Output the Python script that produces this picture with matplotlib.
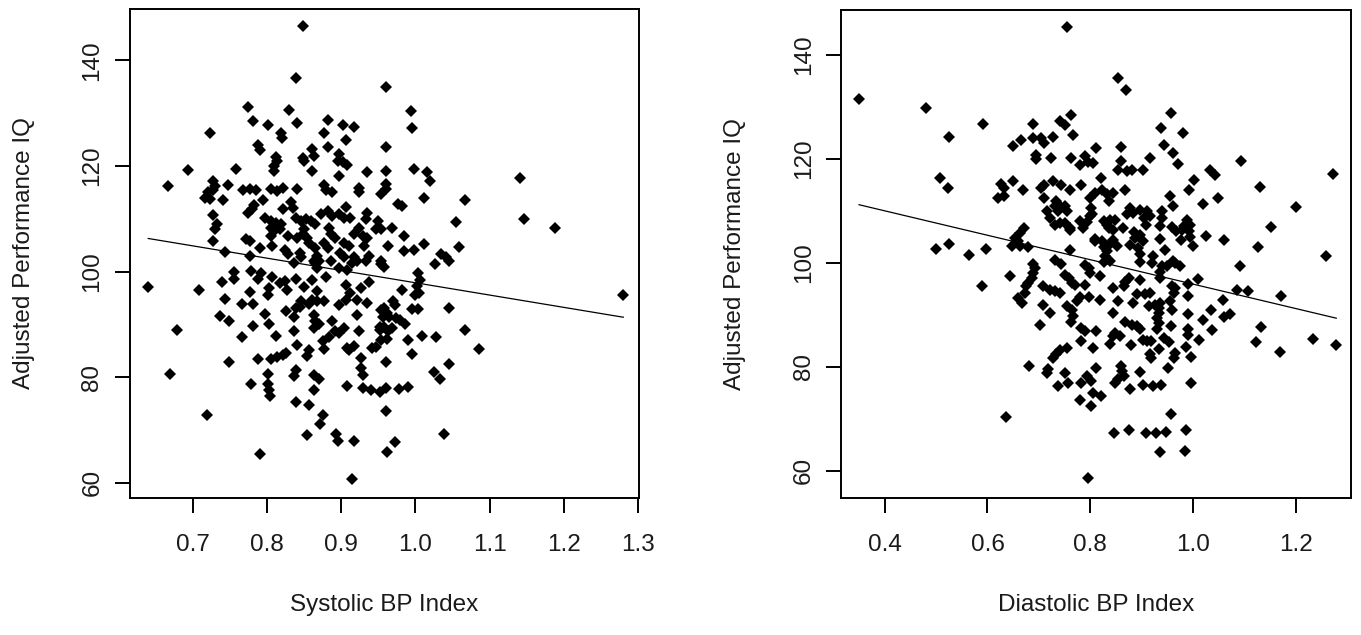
import matplotlib
matplotlib.use("Agg")
import matplotlib.pyplot as plt
import numpy as np

plt.rcParams["font.family"] = ["Liberation Sans", "DejaVu Sans"]

# ── data ─────────────────────────────────────────────────────────────────────

sys_x = [
    0.848, 0.839, 0.775, 0.830, 0.781, 0.841, 0.882, 0.902, 0.917, 0.801,
    0.819, 0.820, 0.723, 0.877, 0.906, 0.960, 0.960, 0.788, 0.791, 0.882,
    0.861, 0.863, 0.848, 0.850, 0.812, 0.813, 0.810, 0.809, 0.897, 0.895,
    0.902, 0.908, 0.860, 0.897, 0.935, 0.960, 0.694, 0.758, 0.666, 0.727,
    0.730, 0.727, 0.721, 0.717, 0.723, 0.747, 0.741, 0.767, 0.777, 0.785,
    0.806, 0.814, 0.822, 0.840, 0.877, 0.880, 0.887, 0.924, 0.924, 0.954,
    0.960, 0.794, 0.832, 0.835, 0.783, 0.780, 0.775, 0.821, 0.906, 0.727,
    0.797, 0.805, 0.812, 0.819, 0.839, 0.846, 0.852, 0.859, 0.865, 0.873,
    0.882, 0.888, 0.897, 0.904, 0.912, 0.935, 0.933, 0.950, 0.732, 0.730,
    0.805, 0.810, 0.817, 0.850, 0.848, 0.884, 0.886, 0.891, 0.924, 0.917,
    0.929, 0.935, 0.947, 0.805, 0.828, 0.841, 0.854, 0.857, 0.727, 0.772,
    0.777, 0.877, 0.882, 0.904, 0.910, 0.931, 0.807, 0.790, 0.743, 0.824,
    0.828, 0.844, 0.846, 0.865, 0.868, 0.863, 0.870, 0.899, 0.904, 0.917,
    0.921, 0.938, 0.954, 0.777, 0.886, 0.994, 0.996, 0.998, 1.016, 1.020,
    1.141, 0.960, 1.012, 1.067, 0.976, 0.982, 1.146, 1.188, 1.054, 0.954,
    0.969, 0.984, 0.963, 0.984, 0.998, 1.012, 1.059, 1.034, 1.041, 1.045,
    1.027, 0.954, 0.957, 1.004, 1.006, 1.002, 1.005, 0.999, 0.982, 1.280,
    0.970, 0.973, 0.957, 0.961, 0.965, 0.995, 1.004, 1.045, 0.974, 0.979,
    0.986, 0.952, 0.968, 0.963, 0.961, 1.067, 0.990, 1.009, 1.028, 1.085,
    0.996, 0.960, 1.045, 1.025, 1.033, 0.952, 0.960, 0.978, 0.990, 0.960,
    1.038, 0.973, 0.962, 0.640, 0.679, 0.669, 0.719, 0.709, 0.740, 0.756,
    0.755, 0.743, 0.736, 0.749, 0.766, 0.766, 0.749, 0.778, 0.777, 0.781,
    0.781, 0.792, 0.788, 0.797, 0.803, 0.788, 0.778, 0.807, 0.803, 0.801,
    0.812, 0.805, 0.814, 0.822, 0.826, 0.790, 0.801, 0.801, 0.803, 0.804,
    0.817, 0.824, 0.827, 0.826, 0.839, 0.837, 0.837, 0.841, 0.839, 0.837,
    0.850, 0.846, 0.844, 0.857, 0.861, 0.868, 0.877, 0.863, 0.865, 0.863,
    0.870, 0.861, 0.868, 0.880, 0.857, 0.854, 0.875, 0.877, 0.839, 0.837,
    0.863, 0.870, 0.863, 0.839, 0.857, 0.875, 0.872, 0.854, 0.893, 0.895,
    0.917, 0.915, 0.908, 0.888, 0.891, 0.884, 0.897, 0.904, 0.897, 0.906,
    0.912, 0.906, 0.921, 0.927, 0.935, 0.938, 0.921, 0.924, 0.910, 0.917,
    0.908, 0.927, 0.927, 0.929, 0.929, 0.940, 0.947, 0.942, 0.954, 0.954,
    0.956, 0.952, 0.958, 0.897, 0.908, 0.915, 0.933, 0.865, 0.868,
]
sys_y = [
    146.6, 136.6, 131.2, 130.6, 128.6, 128.1, 128.7, 127.7, 127.4, 127.7,
    126.2, 125.4, 126.2, 126.2, 124.9, 135.0, 123.7, 123.9, 123.0, 123.6,
    123.2, 121.9, 121.6, 120.9, 121.7, 120.9, 120.0, 119.1, 122.2, 120.9,
    120.7, 120.2, 119.1, 118.1, 118.9, 119.1, 119.2, 119.5, 116.2, 117.2,
    116.2, 115.4, 115.0, 114.0, 113.7, 116.4, 113.5, 115.4, 115.6, 115.4,
    115.6, 115.2, 115.9, 115.6, 116.5, 115.4, 115.0, 115.9, 115.0, 114.7,
    116.6, 113.5, 113.2, 112.1, 112.6, 111.8, 111.2, 111.9, 112.3, 110.7,
    110.2, 109.6, 109.3, 109.0, 110.2, 109.6, 109.9, 109.6, 109.0, 111.0,
    111.4, 110.6, 110.9, 110.2, 110.2, 111.2, 109.9, 109.6, 109.0, 108.0,
    108.3, 107.7, 108.0, 108.0, 107.1, 108.3, 107.1, 106.4, 108.3, 107.1,
    106.8, 106.4, 108.0, 106.8, 106.8, 106.4, 106.4, 105.5, 105.8, 106.1,
    105.8, 105.5, 104.5, 105.5, 104.9, 104.9, 104.9, 104.5, 103.7, 104.2,
    103.3, 103.6, 102.7, 104.5, 103.0, 102.0, 102.0, 103.6, 102.7, 102.7,
    102.0, 103.0, 102.0, 103.0, 102.0, 130.5, 127.3, 119.4, 118.9, 117.2,
    117.8, 115.6, 114.0, 113.5, 112.9, 112.5, 110.0, 108.2, 109.4, 108.0,
    108.2, 106.8, 104.9, 104.0, 104.2, 105.2, 104.7, 103.3, 102.7, 102.0,
    101.5, 101.4, 100.9, 99.8, 98.5, 97.2, 96.0, 95.6, 96.5, 95.5,
    94.4, 93.7, 93.1, 92.2, 91.5, 92.9, 92.9, 93.2, 91.2, 90.9,
    90.1, 89.6, 89.3, 88.7, 87.2, 88.9, 87.1, 87.9, 87.6, 85.4,
    84.5, 82.9, 82.5, 81.0, 79.7, 77.3, 78.0, 77.8, 78.1, 73.7,
    69.3, 67.7, 65.8, 97.1, 88.9, 80.7, 72.8, 96.5, 98.0, 99.9,
    98.6, 94.8, 91.7, 90.6, 93.9, 87.6, 82.9, 100.2, 96.2, 93.9,
    89.8, 99.8, 98.7, 92.0, 90.0, 83.5, 78.8, 99.0, 96.9, 95.6,
    87.9, 83.5, 83.8, 84.3, 84.6, 65.5, 80.7, 78.8, 77.6, 76.5,
    97.9, 98.2, 96.6, 92.5, 93.1, 91.4, 88.7, 86.2, 98.7, 101.6,
    97.1, 94.4, 93.4, 93.9, 94.7, 94.4, 94.4, 91.8, 90.6, 89.3,
    90.0, 98.5, 96.3, 99.0, 85.1, 84.1, 86.8, 85.3, 81.4, 80.2,
    80.5, 79.7, 77.6, 75.3, 74.7, 72.9, 71.2, 69.1, 69.3, 68.0,
    68.0, 60.8, 78.3, 90.6, 88.7, 87.7, 88.4, 89.3, 93.7, 94.7,
    96.0, 97.5, 94.7, 96.9, 94.1, 98.0, 91.8, 88.7, 85.2, 86.0,
    85.5, 83.6, 81.7, 80.5, 78.0, 77.6, 85.8, 85.5, 87.1, 92.8,
    91.5, 89.0, 89.6, 100.7, 100.4, 101.6, 102.0, 101.6, 100.7,
]

dia_x = [
    0.754, 0.350, 0.480, 0.591, 0.526, 0.689, 0.741, 0.750, 0.763, 0.767,
    0.650, 0.666, 0.689, 0.705, 0.711, 0.728, 0.695, 0.695, 0.724, 0.763,
    0.790, 0.780, 0.796, 0.806, 0.812, 0.507, 0.523, 0.627, 0.633, 0.620,
    0.633, 0.650, 0.669, 0.705, 0.711, 0.728, 0.744, 0.760, 0.783, 0.711,
    0.734, 0.741, 0.750, 0.731, 0.737, 0.754, 0.799, 0.809, 0.802, 0.799,
    0.715, 0.721, 0.731, 0.750, 0.760, 0.780, 0.786, 0.672, 0.663, 0.653,
    0.659, 0.647, 0.663, 0.679, 0.500, 0.526, 0.598, 0.565, 0.760, 0.809,
    0.689, 0.731, 0.744, 0.790, 0.854, 0.870, 0.957, 0.938, 0.981, 0.860,
    0.944, 0.961, 0.970, 0.916, 0.860, 0.855, 0.871, 0.881, 0.903, 0.821,
    1.094, 1.033, 1.042, 1.003, 0.993, 1.273, 1.130, 0.867, 0.823, 0.836,
    0.845, 0.955, 0.962, 1.048, 1.019, 1.201, 0.803, 0.878, 0.871, 0.884,
    0.897, 0.910, 0.917, 0.904, 0.940, 0.940, 0.936, 0.989, 0.995, 0.982,
    0.992, 0.826, 0.839, 0.836, 0.845, 0.864, 0.909, 0.897, 0.888, 0.959,
    0.968, 1.152, 1.026, 1.061, 0.936, 0.977, 0.810, 0.823, 0.836, 0.852,
    0.878, 0.894, 0.897, 1.001, 0.946, 1.126, 1.260, 0.923, 0.962, 0.829,
    0.839, 1.091, 0.833, 0.741, 0.761, 0.794, 0.849, 0.833, 0.826, 0.833,
    0.826, 0.692, 0.689, 0.686, 0.679, 0.676, 0.800, 0.797, 0.644, 0.751,
    0.758, 0.764, 0.771, 0.819, 0.709, 0.722, 0.732, 0.741, 0.660, 0.667,
    0.709, 0.722, 0.754, 0.764, 0.767, 0.774, 0.780, 0.797, 0.819, 0.845,
    0.845, 0.590, 0.674, 0.790, 0.702, 0.763, 0.783, 0.790, 0.812, 0.783,
    0.806, 0.754, 0.741, 0.734, 0.728, 0.681, 0.718, 0.715, 0.750, 0.757,
    0.737, 0.793, 0.783, 0.802, 0.812, 0.806, 0.780, 0.802, 0.637, 0.796,
    0.897, 0.920, 0.940, 0.950, 0.966, 0.975, 0.936, 1.009, 0.990, 0.868,
    0.875, 0.865, 0.896, 0.966, 0.963, 1.086, 1.107, 1.172, 0.891, 0.907,
    0.917, 0.990, 0.855, 0.884, 0.914, 0.927, 0.936, 0.933, 0.956, 0.959,
    1.058, 1.035, 0.930, 0.933, 0.990, 1.060, 1.072, 1.019, 0.868, 0.881,
    0.891, 0.897, 0.957, 1.132, 0.930, 0.849, 0.858, 0.845, 0.990, 0.990,
    1.038, 0.902, 0.910, 0.918, 0.944, 0.953, 1.012, 1.123, 1.234, 0.839,
    0.879, 0.934, 0.987, 1.279, 1.169, 0.966, 0.964, 0.916, 0.918, 0.997,
    0.860, 0.861, 0.865, 0.951, 0.896, 0.855, 0.849, 0.877, 0.903, 0.923,
    0.938, 0.997, 0.821, 0.957, 0.847, 0.876, 0.909, 0.929, 0.948, 0.987,
    0.935, 0.984, 0.886, 0.903, 0.978, 0.995, 0.845, 0.936, 0.933, 0.960,
]
dia_y = [
    145.4, 131.6, 129.7, 126.8, 124.3, 126.8, 127.2, 126.5, 128.4, 124.6,
    122.5, 123.6, 124.1, 124.0, 123.0, 124.3, 120.8, 120.0, 120.1, 120.1,
    120.5, 118.8, 119.4, 119.2, 122.1, 116.4, 114.4, 115.1, 114.4, 112.5,
    112.8, 115.8, 114.1, 114.4, 115.0, 115.7, 115.0, 114.1, 115.0, 112.5,
    111.8, 110.9, 110.9, 110.9, 109.9, 109.9, 112.5, 113.4, 110.5, 109.0,
    109.9, 108.6, 107.3, 107.7, 106.7, 108.0, 106.7, 106.7, 105.8, 104.8,
    104.2, 103.2, 103.2, 103.0, 102.7, 103.6, 102.7, 101.5, 102.4, 104.2,
    99.8, 100.6, 99.7, 99.6, 135.5, 133.2, 128.8, 126.0, 124.9, 122.2,
    122.6, 121.1, 119.0, 120.1, 119.5, 117.9, 117.6, 117.9, 117.9, 116.4,
    119.5, 117.9, 116.9, 116.0, 114.1, 117.1, 114.5, 114.1, 114.1, 111.8,
    113.4, 112.9, 110.9, 112.5, 111.3, 110.7, 109.3, 110.5, 109.3, 109.6,
    110.2, 109.9, 109.0, 108.6, 109.9, 108.6, 107.0, 108.3, 107.3, 107.0,
    106.1, 108.0, 108.3, 106.7, 106.4, 106.6, 107.2, 105.4, 104.8, 106.8,
    106.1, 106.8, 105.2, 104.3, 104.5, 104.3, 104.5, 104.2, 103.5, 103.2,
    103.5, 102.9, 101.6, 103.2, 102.4, 103.0, 101.4, 101.3, 100.3, 101.3,
    100.3, 99.4, 113.3, 107.6, 106.3, 107.9, 108.2, 107.3, 103.1, 102.2,
    100.2, 99.0, 98.0, 97.1, 96.1, 95.5, 98.0, 99.0, 97.4, 97.7,
    97.1, 96.1, 95.8, 97.4, 95.5, 94.8, 94.5, 94.2, 93.2, 92.3,
    91.9, 90.4, 91.6, 91.0, 89.7, 92.6, 93.5, 93.5, 92.9, 95.1,
    90.4, 95.6, 94.2, 95.8, 88.0, 88.7, 87.5, 86.8, 86.8, 84.9,
    83.6, 83.6, 83.3, 82.4, 81.7, 80.2, 79.6, 78.8, 78.8, 76.8,
    76.2, 78.2, 76.9, 77.2, 79.8, 75.0, 73.6, 72.4, 70.4, 58.6,
    100.2, 99.9, 99.3, 99.3, 99.9, 99.3, 97.1, 96.9, 96.0, 96.4,
    97.1, 95.5, 96.6, 95.1, 94.2, 94.7, 94.5, 93.7, 93.9, 93.9,
    94.2, 93.7, 92.7, 92.3, 91.6, 91.9, 92.3, 91.3, 92.6, 91.0,
    92.8, 90.9, 89.4, 88.4, 90.2, 89.6, 90.2, 88.9, 88.6, 88.1,
    87.8, 87.2, 87.9, 87.6, 87.2, 86.5, 86.0, 85.9, 87.2, 86.2,
    87.0, 85.2, 84.9, 84.9, 85.6, 84.7, 85.1, 84.8, 85.4, 84.3,
    84.1, 83.5, 83.8, 84.1, 82.9, 82.7, 81.6, 82.4, 81.6, 81.9,
    80.2, 79.2, 78.2, 79.7, 79.0, 77.6, 76.8, 75.8, 76.5, 76.3,
    76.5, 76.8, 74.4, 70.9, 67.3, 67.8, 67.3, 67.3, 67.5, 67.8,
    63.5, 63.8, 106.0, 104.1, 106.3, 105.0, 104.4, 98.3, 90.4, 95.5,
]

# regression lines as drawn on the figure: (intercept, slope)
sys_fit = (121.2, -23.3)
dia_fit = (119.4, -23.5)

panels = [
    # x, y, fit, xlabel, xticks, xlim, ylim, axes rect (fig fraction)
    (sys_x, sys_y, sys_fit, "Systolic BP Index",
     [0.7, 0.8, 0.9, 1.0, 1.1, 1.2, 1.3], (0.615, 1.3005), (57.2, 149.8),
     [129.7 / 1361, 137.3 / 635, 508.8 / 1361, 489.0 / 635]),
    (dia_x, dia_y, dia_fit, "Diastolic BP Index",
     [0.4, 0.6, 0.8, 1.0, 1.2], (0.3155, 1.3077), (54.8, 148.7),
     [841.3 / 1361, 137.3 / 635, 509.7 / 1361, 488.0 / 635]),
]

TXT = "#1a1a1a"
FS = 17.5

fig = plt.figure(figsize=(13.61, 6.35), dpi=100)

for xs, ys, fit, xlabel, xticks, xlim, ylim, rect in panels:
    ax = fig.add_axes(rect)
    xs = np.asarray(xs)
    ys = np.asarray(ys)
    ax.plot(xs, ys, linestyle="none", marker="D", markersize=6.0,
            color="black", markeredgewidth=0)
    xl = np.array([xs.min(), xs.max()])
    ax.plot(xl, fit[0] + fit[1] * xl, color="black", linewidth=0.9)

    ax.set_xlim(*xlim)
    ax.set_ylim(*ylim)
    ax.set_xticks(xticks)
    ax.set_xticklabels([f"{t:.1f}" for t in xticks])
    ax.set_yticks([60, 80, 100, 120, 140])
    for s in ax.spines.values():
        s.set_linewidth(1.4)
        s.set_color("black")
    ax.tick_params(direction="out", length=11, width=1.4, labelsize=FS,
                   colors="black", labelcolor=TXT)
    ax.tick_params(axis="x", pad=15)
    ax.tick_params(axis="y", pad=8)
    plt.setp(ax.get_yticklabels(), rotation=90, va="center")

    ax.set_xlabel(xlabel, fontsize=FS, color=TXT)
    ax.xaxis.set_label_coords(0.5, -0.219)
    ax.xaxis.label.set_va("center")
    ax.set_ylabel("Adjusted Performance IQ", fontsize=FS, color=TXT)
    ax.yaxis.set_label_coords(-0.208, 0.5)
    ax.yaxis.label.set_va("center")

fig.savefig("out.png", dpi=100, facecolor="white")
